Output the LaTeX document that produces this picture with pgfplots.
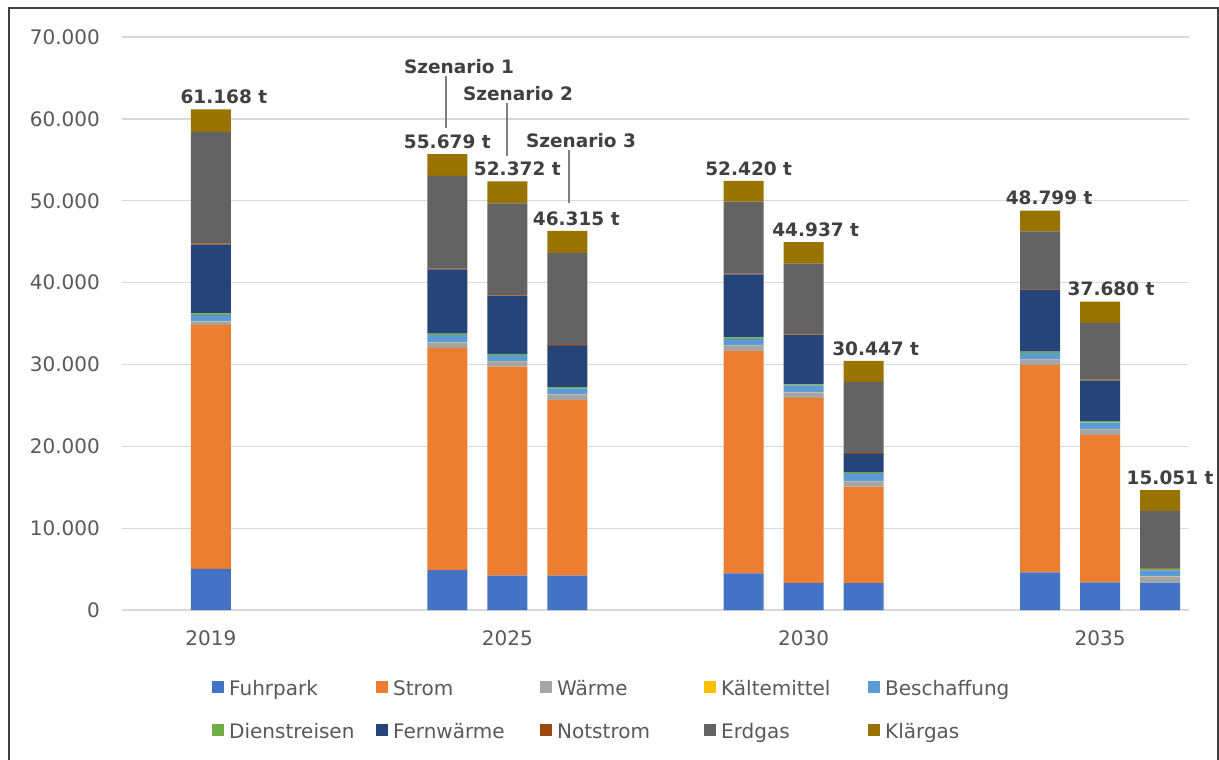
\documentclass[border=0pt]{standalone}
\usepackage{fontspec}
\setmainfont{DejaVu Sans}
\usepackage{pgfplots}
\usepackage{pgfplotstable}
\pgfplotsset{compat=1.18}
\definecolor{cFuhr}{HTML}{4472C4}
\definecolor{cStrom}{HTML}{ED7D31}
\definecolor{cWaerme}{HTML}{A5A5A5}
\definecolor{cKaelte}{HTML}{FFC000}
\definecolor{cBesch}{HTML}{5B9BD5}
\definecolor{cDienst}{HTML}{70AD47}
\definecolor{cFernw}{HTML}{264478}
\definecolor{cNot}{HTML}{9E480E}
\definecolor{cErd}{HTML}{636363}
\definecolor{cKlaer}{HTML}{997300}
\definecolor{txt}{HTML}{595959}
\definecolor{lbl}{HTML}{404040}
\definecolor{gridc}{HTML}{D9D9D9}
\definecolor{framec}{HTML}{404040}
\definecolor{annot}{HTML}{7F7F7F}

\pgfplotstableread{
x      fuhr strom waerme kaelte besch dienst fernw notstr erdgas klaer
0      5030 29790 420 30 800 160 8400 150 13620 2768
0.7976 4880 27150 620 30 900 170 7850 150 11280 2649
1      4215 25505 580 30 810 150 7060 100 11240 2682
1.2024 4215 21425 660 30 750 150 5040 80 11285 2680
1.7976 4490 27140 700 30 760 180 7700 100 8780 2540
2      3270 22650 650 30 800 150 6020 100 8657 2610
2.2024 3270 11800 650 30 870 150 2310 100 8700 2567
2.7976 4590 25330 690 30 740 200 7550 100 7030 2539
3      3370 17980 730 30 780 200 4940 100 6950 2600
3.2024 3340 0 730 30 740 150 0 110 6990 2560
}\data

\tikzset{
  lab/.style={font=\bfseries\fontsize{18.5}{22}\selectfont, text=lbl, inner sep=0pt, anchor=center, yshift=12.5pt},
  scen/.style={font=\bfseries\fontsize{18.5}{22}\selectfont, text=lbl, inner sep=0pt, anchor=center},
}

\begin{document}
\begin{tikzpicture}
\useasboundingbox (0,0) rectangle (1219pt,-760pt);
\fill[white] (0,0) rectangle (1219pt,-760pt);
\draw[color=framec, line width=2pt] (8.5pt,-8.5pt) rectangle (1217.5pt,-800pt);
\begin{axis}[
  at={(122pt,-610pt)}, anchor=south west,
  scale only axis, width=1067pt, height=573pt,
  xmin=-0.3, xmax=3.3, ymin=0, ymax=70000,
  clip=false,
  ybar stacked, bar width=40pt,
  axis line style={draw=none},
  ymajorgrids, grid style={color=gridc, line width=1.3pt},
  major tick length=0pt, tick style={draw=none},
  ytick={0,10000,...,70000},
  scaled y ticks=false,
  xtick={0,1,2,3}, xticklabels={2019,2025,2030,2035},
  /pgf/number format/fixed,
  /pgf/number format/1000 sep={.},
  /pgf/number format/assume math mode=true,
  tick label style={font=\fontsize{20}{24}\selectfont, text=txt},
  yticklabel style={inner xsep=0pt, xshift=-22pt},
  xticklabel style={inner ysep=0pt, yshift=-20pt},
  legend columns=5,
  legend image code/.code={\fill[#1] (0pt,-3pt) rectangle (12pt,9pt);},
  legend cell align=left,
  legend style={at={(0.08435,-0.1222)}, anchor=north west, draw=none, fill=none,
    inner sep=0pt, column sep=5pt, row sep=23pt,
    font=\fontsize{20}{24}\selectfont, text=txt,
    nodes={inner sep=0pt, text height=15pt, text depth=5pt, text width=142pt, align=left}},
]
\addplot[fill=cFuhr, draw=none] table[x=x, y=fuhr]{\data};
\addlegendentry{Fuhrpark}
\addplot[fill=cStrom, draw=none] table[x=x, y=strom]{\data};
\addlegendentry{Strom}
\addplot[fill=cWaerme, draw=none] table[x=x, y=waerme]{\data};
\addlegendentry{Wärme}
\addplot[fill=cKaelte, draw=none] table[x=x, y=kaelte]{\data};
\addlegendentry{Kältemittel}
\addplot[fill=cBesch, draw=none] table[x=x, y=besch]{\data};
\addlegendentry{Beschaffung}
\addplot[fill=cDienst, draw=none] table[x=x, y=dienst]{\data};
\addlegendentry{Dienstreisen}
\addplot[fill=cFernw, draw=none] table[x=x, y=fernw]{\data};
\addlegendentry{Fernwärme}
\addplot[fill=cNot, draw=none] table[x=x, y=notstr]{\data};
\addlegendentry{Notstrom}
\addplot[fill=cErd, draw=none] table[x=x, y=erdgas]{\data};
\addlegendentry{Erdgas}
\addplot[fill=cKlaer, draw=none] table[x=x, y=klaer]{\data};
\addlegendentry{Klärgas}

\node[lab, xshift=13pt] at (axis cs:0,61168) {61.168 t};
\node[lab, xshift=0pt] at (axis cs:0.7976,55679) {55.679 t};
\node[lab, xshift=10pt] at (axis cs:1,52372) {52.372 t};
\node[lab, xshift=9pt] at (axis cs:1.2024,46315) {46.315 t};
\node[lab, xshift=5pt] at (axis cs:1.7976,52420) {52.420 t};
\node[lab, xshift=12pt] at (axis cs:2,44937) {44.937 t};
\node[lab, xshift=12pt] at (axis cs:2.2024,30447) {30.447 t};
\node[lab, xshift=9pt] at (axis cs:2.7976,48799) {48.799 t};
\node[lab, xshift=11pt] at (axis cs:3,37680) {37.680 t};
\node[lab, xshift=10pt] at (axis cs:3.2024,14650) {15.051 t};
\end{axis}
\draw[color=annot, line width=2pt] (446pt,-76pt) -- (446pt,-128pt);
\draw[color=annot, line width=2pt] (507pt,-103pt) -- (507pt,-156pt);
\draw[color=annot, line width=2pt] (569pt,-150pt) -- (569pt,-203pt);
\node[scen] at (459pt,-67pt) {Szenario 1};
\node[scen] at (518pt,-93.5pt) {Szenario 2};
\node[scen] at (581pt,-141pt) {Szenario 3};
\end{tikzpicture}
\end{document}
